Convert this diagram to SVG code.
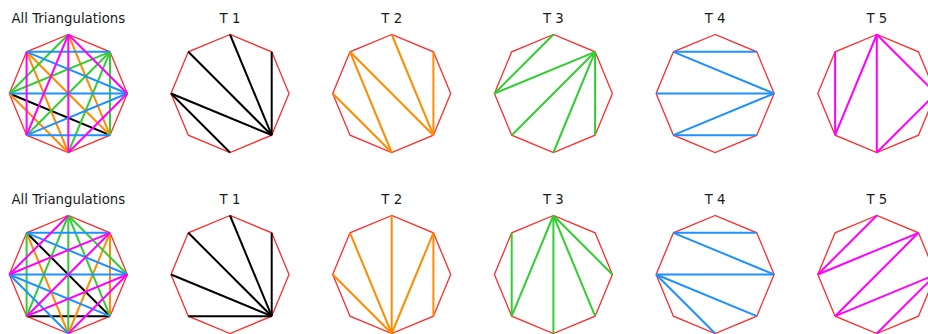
<svg xmlns="http://www.w3.org/2000/svg" xmlns:xlink="http://www.w3.org/1999/xlink" width="928" height="334" viewBox="0 0 928 334">
<style>
  .t{font-family:"DejaVu Sans","Liberation Sans",sans-serif;font-size:13.3px;fill:#1a1a1a;text-anchor:middle}
  .e{fill:none;stroke:#ff2b2b;stroke-width:1.3;stroke-linejoin:miter}
  line{stroke-width:2;stroke-linecap:butt}
  .k{stroke:#000}
  .o{stroke:#ff8c00}
  .g{stroke:#32cd32}
  .b{stroke:#1e90ff}
  .m{stroke:#ff00ff}
</style>
<defs>
  <polygon id="oct" class="e" points="0,-59 -41.7,-41.7 -59,0 -41.7,41.7 0,59 41.7,41.7 59,0 41.7,-41.7"/>
</defs>
<rect width="928" height="334" fill="#fff"/>

<!-- Row 1 -->
<g id="r1-all">
  <text class="t" x="68.3" y="23">All Triangulations</text>
  <g transform="translate(68.3,93.5)">
    <use href="#oct"/>
    <g id="r1-all-connectors">
      <line class="k" x1="-59" y1="0" x2="41.7" y2="41.7"/>
      <line class="o" x1="-41.7" y1="-41.7" x2="0" y2="59"/>
      <line class="o" x1="-41.7" y1="-41.7" x2="41.7" y2="41.7"/>
      <line class="o" x1="0" y1="-59" x2="41.7" y2="41.7"/>
      <line class="o" x1="-59" y1="0" x2="0" y2="59"/>
      <line class="g" x1="0" y1="-59" x2="-59" y2="0"/>
      <line class="g" x1="-59" y1="0" x2="41.7" y2="-41.7"/>
      <line class="g" x1="-41.7" y1="41.7" x2="41.7" y2="-41.7"/>
      <line class="g" x1="0" y1="59" x2="41.7" y2="-41.7"/>
      <line class="g" x1="41.7" y1="41.7" x2="41.7" y2="-41.7"/>
      <line class="b" x1="-41.7" y1="-41.7" x2="41.7" y2="-41.7"/>
      <line class="b" x1="-41.7" y1="-41.7" x2="59" y2="0"/>
      <line class="b" x1="-59" y1="0" x2="59" y2="0"/>
      <line class="b" x1="-41.7" y1="41.7" x2="59" y2="0"/>
      <line class="b" x1="-41.7" y1="41.7" x2="41.7" y2="41.7"/>
      <line class="m" x1="-41.7" y1="-41.7" x2="-41.7" y2="41.7"/>
      <line class="m" x1="0" y1="-59" x2="-41.7" y2="41.7"/>
      <line class="m" x1="0" y1="-59" x2="0" y2="59"/>
      <line class="m" x1="0" y1="-59" x2="59" y2="0"/>
      <line class="m" x1="0" y1="59" x2="59" y2="0"/>
    </g>
  </g>
</g>
<g id="r1-t1">
  <text class="t" x="230" y="23">T 1</text>
  <g transform="translate(230,93.5)">
    <use href="#oct"/>
    <g id="r1-t1-connectors">
      <line class="k" x1="0" y1="-59" x2="41.7" y2="41.7"/>
      <line class="k" x1="41.7" y1="-41.7" x2="41.7" y2="41.7"/>
      <line class="k" x1="-41.7" y1="-41.7" x2="41.7" y2="41.7"/>
      <line class="k" x1="-59" y1="0" x2="41.7" y2="41.7"/>
      <line class="k" x1="-59" y1="0" x2="0" y2="59"/>
    </g>
  </g>
</g>
<g id="r1-t2">
  <text class="t" x="391.7" y="23">T 2</text>
  <g transform="translate(391.7,93.5)">
    <use href="#oct"/>
    <g id="r1-t2-connectors">
      <line class="o" x1="-41.7" y1="-41.7" x2="0" y2="59"/>
      <line class="o" x1="-41.7" y1="-41.7" x2="41.7" y2="41.7"/>
      <line class="o" x1="0" y1="-59" x2="41.7" y2="41.7"/>
      <line class="o" x1="41.7" y1="-41.7" x2="41.7" y2="41.7"/>
      <line class="o" x1="-59" y1="0" x2="0" y2="59"/>
    </g>
  </g>
</g>
<g id="r1-t3">
  <text class="t" x="553.4" y="23">T 3</text>
  <g transform="translate(553.4,93.5)">
    <use href="#oct"/>
    <g id="r1-t3-connectors">
      <line class="g" x1="0" y1="-59" x2="-59" y2="0"/>
      <line class="g" x1="-59" y1="0" x2="41.7" y2="-41.7"/>
      <line class="g" x1="-41.7" y1="41.7" x2="41.7" y2="-41.7"/>
      <line class="g" x1="0" y1="59" x2="41.7" y2="-41.7"/>
      <line class="g" x1="41.7" y1="41.7" x2="41.7" y2="-41.7"/>
    </g>
  </g>
</g>
<g id="r1-t4">
  <text class="t" x="715.1" y="23">T 4</text>
  <g transform="translate(715.1,93.5)">
    <use href="#oct"/>
    <g id="r1-t4-connectors">
      <line class="b" x1="-41.7" y1="-41.7" x2="41.7" y2="-41.7"/>
      <line class="b" x1="-41.7" y1="-41.7" x2="59" y2="0"/>
      <line class="b" x1="-59" y1="0" x2="59" y2="0"/>
      <line class="b" x1="-41.7" y1="41.7" x2="59" y2="0"/>
      <line class="b" x1="-41.7" y1="41.7" x2="41.7" y2="41.7"/>
    </g>
  </g>
</g>
<g id="r1-t5">
  <text class="t" x="876.8" y="23">T 5</text>
  <g transform="translate(876.8,93.5)">
    <use href="#oct"/>
    <g id="r1-t5-connectors">
      <line class="m" x1="-41.7" y1="-41.7" x2="-41.7" y2="41.7"/>
      <line class="m" x1="0" y1="-59" x2="-41.7" y2="41.7"/>
      <line class="m" x1="0" y1="-59" x2="0" y2="59"/>
      <line class="m" x1="0" y1="-59" x2="59" y2="0"/>
      <line class="m" x1="0" y1="59" x2="59" y2="0"/>
    </g>
  </g>
</g>

<!-- Row 2 -->
<g id="r2-all">
  <text class="t" x="68.3" y="204">All Triangulations</text>
  <g transform="translate(68.3,274.5)">
    <use href="#oct"/>
    <g id="r2-all-connectors">
      <line class="k" x1="-41.7" y1="-41.7" x2="41.7" y2="41.7"/>
      <line class="k" x1="-41.7" y1="41.7" x2="41.7" y2="41.7"/>
      <line class="o" x1="-41.7" y1="-41.7" x2="0" y2="59"/>
      <line class="o" x1="0" y1="59" x2="41.7" y2="-41.7"/>
      <line class="o" x1="41.7" y1="41.7" x2="41.7" y2="-41.7"/>
      <line class="g" x1="-41.7" y1="-41.7" x2="-41.7" y2="41.7"/>
      <line class="g" x1="0" y1="-59" x2="-41.7" y2="41.7"/>
      <line class="g" x1="0" y1="-59" x2="0" y2="59"/>
      <line class="g" x1="0" y1="-59" x2="41.7" y2="41.7"/>
      <line class="g" x1="0" y1="-59" x2="59" y2="0"/>
      <line class="b" x1="-41.7" y1="-41.7" x2="41.7" y2="-41.7"/>
      <line class="b" x1="-41.7" y1="-41.7" x2="59" y2="0"/>
      <line class="b" x1="-59" y1="0" x2="59" y2="0"/>
      <line class="b" x1="-59" y1="0" x2="41.7" y2="41.7"/>
      <line class="b" x1="-59" y1="0" x2="0" y2="59"/>
      <line class="m" x1="0" y1="-59" x2="-59" y2="0"/>
      <line class="m" x1="-59" y1="0" x2="41.7" y2="-41.7"/>
      <line class="m" x1="-41.7" y1="41.7" x2="41.7" y2="-41.7"/>
      <line class="m" x1="-41.7" y1="41.7" x2="59" y2="0"/>
      <line class="m" x1="0" y1="59" x2="59" y2="0"/>
    </g>
  </g>
</g>
<g id="r2-t1">
  <text class="t" x="230" y="204">T 1</text>
  <g transform="translate(230,274.5)">
    <use href="#oct"/>
    <g id="r2-t1-connectors">
      <line class="k" x1="0" y1="-59" x2="41.7" y2="41.7"/>
      <line class="k" x1="41.7" y1="-41.7" x2="41.7" y2="41.7"/>
      <line class="k" x1="-41.7" y1="-41.7" x2="41.7" y2="41.7"/>
      <line class="k" x1="-59" y1="0" x2="41.7" y2="41.7"/>
      <line class="k" x1="-41.7" y1="41.7" x2="41.7" y2="41.7"/>
    </g>
  </g>
</g>
<g id="r2-t2">
  <text class="t" x="391.7" y="204">T 2</text>
  <g transform="translate(391.7,274.5)">
    <use href="#oct"/>
    <g id="r2-t2-connectors">
      <line class="o" x1="-41.7" y1="-41.7" x2="0" y2="59"/>
      <line class="o" x1="0" y1="-59" x2="0" y2="59"/>
      <line class="o" x1="0" y1="59" x2="41.7" y2="-41.7"/>
      <line class="o" x1="41.7" y1="-41.7" x2="41.7" y2="41.7"/>
      <line class="o" x1="-59" y1="0" x2="0" y2="59"/>
    </g>
  </g>
</g>
<g id="r2-t3">
  <text class="t" x="553.4" y="204">T 3</text>
  <g transform="translate(553.4,274.5)">
    <use href="#oct"/>
    <g id="r2-t3-connectors">
      <line class="g" x1="-41.7" y1="-41.7" x2="-41.7" y2="41.7"/>
      <line class="g" x1="0" y1="-59" x2="-41.7" y2="41.7"/>
      <line class="g" x1="0" y1="-59" x2="0" y2="59"/>
      <line class="g" x1="0" y1="-59" x2="41.7" y2="41.7"/>
      <line class="g" x1="0" y1="-59" x2="59" y2="0"/>
    </g>
  </g>
</g>
<g id="r2-t4">
  <text class="t" x="715.1" y="204">T 4</text>
  <g transform="translate(715.1,274.5)">
    <use href="#oct"/>
    <g id="r2-t4-connectors">
      <line class="b" x1="-41.7" y1="-41.7" x2="41.7" y2="-41.7"/>
      <line class="b" x1="-41.7" y1="-41.7" x2="59" y2="0"/>
      <line class="b" x1="-59" y1="0" x2="59" y2="0"/>
      <line class="b" x1="-59" y1="0" x2="41.7" y2="41.7"/>
      <line class="b" x1="-59" y1="0" x2="0" y2="59"/>
    </g>
  </g>
</g>
<g id="r2-t5">
  <text class="t" x="876.8" y="204">T 5</text>
  <g transform="translate(876.8,274.5)">
    <use href="#oct"/>
    <g id="r2-t5-connectors">
      <line class="m" x1="0" y1="-59" x2="-59" y2="0"/>
      <line class="m" x1="-59" y1="0" x2="41.7" y2="-41.7"/>
      <line class="m" x1="-41.7" y1="41.7" x2="41.7" y2="-41.7"/>
      <line class="m" x1="-41.7" y1="41.7" x2="59" y2="0"/>
      <line class="m" x1="0" y1="59" x2="59" y2="0"/>
    </g>
  </g>
</g>
</svg>
